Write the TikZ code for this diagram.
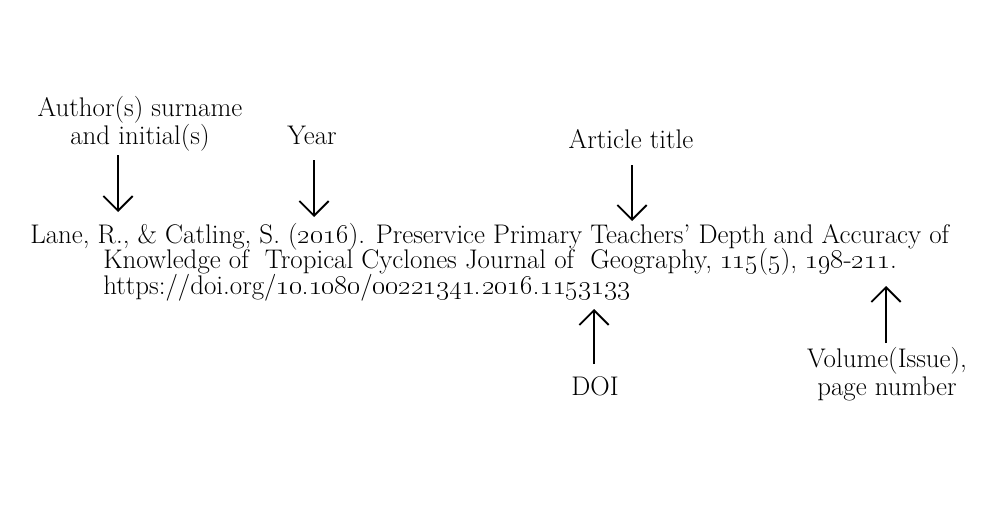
\documentclass[tikz,border=0pt]{standalone}
\usepackage{tikz}
\usetikzlibrary{arrows.meta, positioning}
\newcommand{\osn}[1]{\oldstylenums{#1}}
\tikzset{
    reftext/.style={anchor=base west, inner sep=0pt, font=\fontsize{20.2}{24}\selectfont},
    tag/.style={align=center, inner sep=0pt, font=\fontsize{20.2}{21}\selectfont},
    pointer/.style={-{Straight Barb[length=11pt, width=22pt, line width=1.4pt]}, line width=1.4pt}
}
\begin{document}
\begin{tikzpicture}[x=0.75pt, y=-0.75pt]
    \useasboundingbox (0,0) rectangle (1000,510);

    % reference lines
    \node[reftext] (l1) at (30, 243) {Lane, R., \& Catling, S. (\osn{2016}). Preservice Primary Teachers' Depth and Accuracy of};
    \node[reftext] (l2) at (103, 268) {Knowledge of\ \ Tropical Cyclones Journal of\ \ Geography, \osn{115}(\osn{5}), \osn{198}-\osn{211}.};
    \node[reftext] (l3) at (103, 294) {https://doi.org/\osn{10.1080}/\osn{00221341.2016.1153133}};

    % labels
    \node[tag] (author) at (140, 124) {Author(s) surname\\and initial(s)};
    \node[tag] (year) at (312, 135) {Year};
    \node[tag] (title) at (631, 139) {Article title};
    \node[tag] (doi) at (595, 386) {DOI};
    \node[tag] (vol) at (887, 374) {Volume(Issue),\\page number};

    % arrow ends
    \coordinate (a1) at (118, 155);
    \coordinate (a2) at (118, 212);
    \coordinate (y1) at (314, 160);
    \coordinate (y2) at (314, 217);
    \coordinate (t1) at (632, 165);
    \coordinate (t2) at (632, 221);
    \coordinate (d1) at (594, 364);
    \coordinate (d2) at (594, 309);
    \coordinate (v1) at (886, 343);
    \coordinate (v2) at (886, 286);

    \draw[pointer] (a1) -- (a2);
    \draw[pointer] (y1) -- (y2);
    \draw[pointer] (t1) -- (t2);
    \draw[pointer] (d1) -- (d2);
    \draw[pointer] (v1) -- (v2);
\end{tikzpicture}
\end{document}
